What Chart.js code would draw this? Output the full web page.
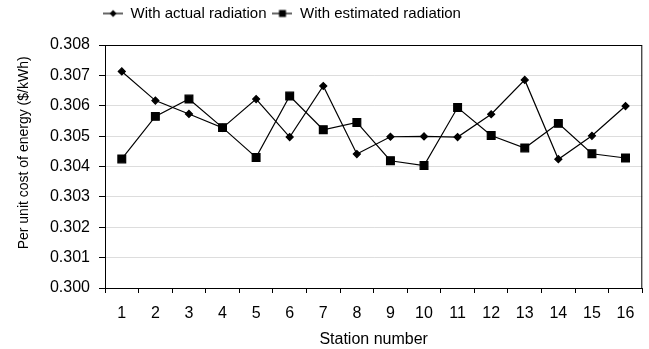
<!DOCTYPE html>
<html>
<head>
<meta charset="utf-8">
<script src="https://cdn.jsdelivr.net/npm/chart.js@4.4.0/dist/chart.umd.min.js"></script>
<style>
  html, body { margin: 0; padding: 0; background: #fff; }
  #wrap { width: 649px; height: 349px; }
</style>
</head>
<body>
<div id="wrap"><canvas id="Chart"></canvas></div>
<script>
// station numbers along the x-axis
var stations = ['1','2','3','4','5','6','7','8','9','10','11','12','13','14','15','16'];
// per unit cost of energy ($/kWh)
var actual = [0.30713,0.30617,0.30573,0.30527,0.30622,0.30497,0.30665,0.30441,
              0.30498,0.30499,0.30497,0.30572,0.30685,0.30424,0.30501,0.30599];
var estimated = [0.30425,0.30565,0.30622,0.30528,0.30430,0.30632,0.30521,0.30545,
                 0.30419,0.30403,0.30594,0.30502,0.30461,0.30542,0.30442,0.30428];

Chart.defaults.font.family = '"Liberation Sans", Arial, sans-serif';
Chart.defaults.color = '#000';

// little line + marker pictures for the legend
function legendIcon(shape) {
  var c = document.createElement('canvas');
  c.width = 20; c.height = 10;
  var g = c.getContext('2d');
  g.strokeStyle = '#000'; g.fillStyle = '#000'; g.lineWidth = 1.2;
  g.beginPath(); g.moveTo(0, 5); g.lineTo(20, 5); g.stroke();
  g.beginPath();
  if (shape == 'diamond') {
    g.moveTo(10, 1.5); g.lineTo(13.5, 5); g.lineTo(10, 8.5); g.lineTo(6.5, 5);
  } else {
    g.rect(6.5, 1.5, 7, 7);
  }
  g.fill();
  return c;
}
var icons = [legendIcon('diamond'), legendIcon('square')];

// box round the plot area
var frame = {
  id: 'frame',
  afterDraw: function(chart) {
    var a = chart.chartArea, ctx = chart.ctx;
    ctx.save();
    ctx.strokeStyle = '#000';
    ctx.lineWidth = 1;
    ctx.strokeRect(a.left + 0.5, a.top + 0.5, a.right - a.left - 1, a.bottom - a.top);
    ctx.restore();
  }
};

// legend sits a bit left of centre and leaves more room under it
var legendSpace = {
  id: 'legendSpace',
  beforeInit: function(chart) {
    var fit = chart.legend.fit;
    chart.legend.fit = function() {
      fit.bind(chart.legend)();
      this.height += 14;
    };
  },
  afterLayout: function(chart) {
    chart.legend.left -= 45;
    chart.legend.right -= 45;
  }
};

var ctx = document.getElementById('Chart');
var myChart = new Chart(ctx, {
  type: 'line',
  data: {
    labels: stations,
    datasets: [
      {
        label: 'With actual radiation',
        data: actual,
        borderColor: '#000',
        backgroundColor: '#000',
        borderWidth: 1.2,
        pointStyle: 'rectRot',
        pointRadius: 3.5,
        pointHoverRadius: 3.5,
        fill: false,
        tension: 0
      },
      {
        label: 'With estimated radiation',
        data: estimated,
        borderColor: '#000',
        backgroundColor: '#000',
        borderWidth: 1.2,
        pointStyle: 'rect',
        pointRadius: 5.5,
        pointHoverRadius: 5.5,
        fill: false,
        tension: 0
      }
    ]
  },
  options: {
    responsive: true,
    maintainAspectRatio: false,
    animation: false,
    layout: { padding: { top: 0, right: 3, bottom: 0, left: 8 } },
    plugins: {
      tooltip: { enabled: false },
      legend: {
        position: 'top',
        labels: {
          font: { size: 15 },
          usePointStyle: true,
          pointStyleWidth: 20,
          padding: 6,
          generateLabels: function(chart) {
            return chart.data.datasets.map(function(ds, i) {
              return {
                text: ds.label,
                pointStyle: icons[i],
                fillStyle: '#000',
                strokeStyle: '#000',
                lineWidth: 0,
                datasetIndex: i,
                hidden: false
              };
            });
          }
        }
      }
    },
    scales: {
      x: {
        offset: true,
        afterFit: function(scale) {
          scale.height = 61;
          scale.paddingLeft = 0;
          scale.paddingRight = 0;
        },
        grid: { display: true, drawOnChartArea: false, offset: true, color: '#000', tickLength: 5 },
        border: { color: '#000' },
        ticks: { font: { size: 16 }, padding: 11 },
        title: { display: true, text: 'Station number', font: { size: 16 }, padding: { top: 0, bottom: 0 } }
      },
      y: {
        min: 0.300,
        max: 0.308,
        afterFit: function(scale) { scale.width = 97; },
        grid: { color: '#dddddd', tickLength: 6, tickColor: '#000' },
        border: { color: '#000' },
        ticks: {
          stepSize: 0.001,
          font: { size: 16 },
          padding: 9,
          callback: function(v) { return v.toFixed(3); }
        },
        title: {
          display: true,
          text: '       Per unit cost of energy ($/kWh)',
          font: { size: 14 },
          padding: { top: 8, bottom: 0 }
        }
      }
    }
  },
  plugins: [frame, legendSpace]
});
</script>
</body>
</html>
